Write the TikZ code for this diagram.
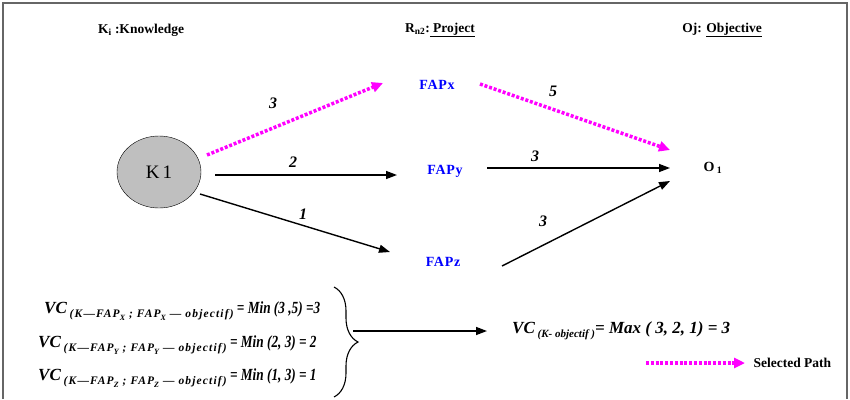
\documentclass[tikz,border=0pt]{standalone}
\usepackage{fontspec}
\setmainfont{Liberation Serif}
\newfontfamily\eqnarrow[FakeStretch=0.78]{Liberation Serif}
\newfontfamily\subwide[LetterSpace=10]{Liberation Serif}
\newfontfamily\fapwide[LetterSpace=5]{Liberation Serif}
\usepackage{tikz}
\usetikzlibrary{positioning,arrows.meta,shapes.geometric,decorations.pathreplacing}

\definecolor{selpath}{RGB}{255,0,255}
\newcommand{\vcsub}[1]{\raisebox{-4.5pt}{\subwide\fontsize{11.5}{12}\selectfont #1}}
\newcommand{\vcsubr}[1]{\raisebox{-4.5pt}{\fontsize{11}{12}\selectfont #1}}
\newcommand{\apsub}[1]{\raisebox{-2.5pt}{\fontsize{8}{9}\selectfont #1}}

\begin{document}
\begin{tikzpicture}[x=1pt,y=-1pt,
  head/.style={font=\fontsize{13.5}{15}\selectfont\bfseries},
  fap/.style={font=\fapwide\fontsize{14}{16}\selectfont\bfseries,text=blue},
  wgt/.style={font=\fontsize{16}{18}\selectfont\bfseries\itshape},
  eqn/.style={anchor=base west,inner sep=0pt,font=\fontsize{17}{20}\selectfont\bfseries\itshape},
  link/.style={-{Triangle[length=11pt,width=8pt]},line width=1.4pt},
  sel/.style={-{Triangle[length=11pt,width=10pt]},line width=3.5pt,selpath,dash pattern=on 3pt off 1.8pt}]
  \useasboundingbox (0,0) rectangle (850,399);
  % frame
  \draw[black!60,line width=1.2pt] (3,399) -- (3,3) -- (847,3) -- (847,399);
  % column titles
  \node[head] (hk) at (141,30) {K\textsubscript{i} :Knowledge};
  \node[head] (hr) at (440,30) {R\textsubscript{n2}:\underline{ Project}};
  \node[head] (ho) at (722,30) {Oj: \underline{Objective}};
  % the graph
  \node[ellipse,draw,fill=gray!50,minimum width=84pt,minimum height=72pt,
    font=\fontsize{19}{22}\selectfont] (K1) at (159,172) {K\,1};
  \node[fap] (fx) at (437,85) {FAPx};
  \node[fap] (fy) at (445,171) {FAPy};
  \node[fap] (fz) at (443,262) {FAPz};
  \node[font=\fontsize{14}{16}\selectfont\bfseries] (o1) at (713,168) {O\,\textsubscript{1}};
  % arrow ends
  \coordinate (kx) at (207,155); \coordinate (xin) at (383,83);
  \coordinate (ky) at (215,175); \coordinate (yin) at (397,175);
  \coordinate (kz) at (200,194); \coordinate (zin) at (390,252);
  \coordinate (xo) at (480,84);  \coordinate (oxin) at (670,150);
  \coordinate (yo) at (487,168); \coordinate (oyin) at (670,168);
  \coordinate (zo) at (502,266); \coordinate (ozin) at (670,181);
  \draw[sel] (kx) -- (xin);
  \draw[link] (ky) -- (yin);
  \draw[link] (kz) -- (zin);
  \draw[sel] (xo) -- (oxin);
  \draw[link] (yo) -- (oyin);
  \draw[link] (zo) -- (ozin);
  \node[wgt] (w1) at (273,103) {3};
  \node[wgt] (w2) at (293,162) {2};
  \node[wgt] (w3) at (303,214) {1};
  \node[wgt] (w4) at (553,91) {5};
  \node[wgt] (w5) at (535,156) {3};
  \node[wgt] (w6) at (543,221) {3};
  % values of the three paths
  \node[eqn] (e1) at (44,313) {VC\,\vcsub{(K—FAP\apsub{X} ; FAP\apsub{X} — objectif)}{\eqnarrow\ = Min (3 ,5) =3}};
  \node[eqn] (e2) at (38,347) {VC\,\vcsub{(K—FAP\apsub{Y} ; FAP\apsub{Y} — objectif)}{\eqnarrow\ = Min (2, 3) = 2}};
  \node[eqn] (e3) at (38,380) {VC\,\vcsub{(K—FAP\apsub{Z} ; FAP\apsub{Z} — objectif)}{\eqnarrow\ = Min (1, 3) = 1}};
  \draw[decorate,decoration={brace,amplitude=24pt},line width=1.1pt] (334,287) -- (334,397);
  \coordinate (bt) at (353,331);
  \coordinate (rin) at (487,331);
  \draw[link] (bt) -- (rin);
  \node[eqn] (res) at (512,333) {VC\,\vcsubr{(K- objectif )}= Max ( 3, 2, 1) = 3};
  % legend
  \coordinate (la) at (646,363);
  \coordinate (lb) at (745,363);
  \draw[sel] (la) -- (lb);
  \node[head,anchor=west] (lg) at (750,363) {Selected Path};
\end{tikzpicture}
\end{document}
